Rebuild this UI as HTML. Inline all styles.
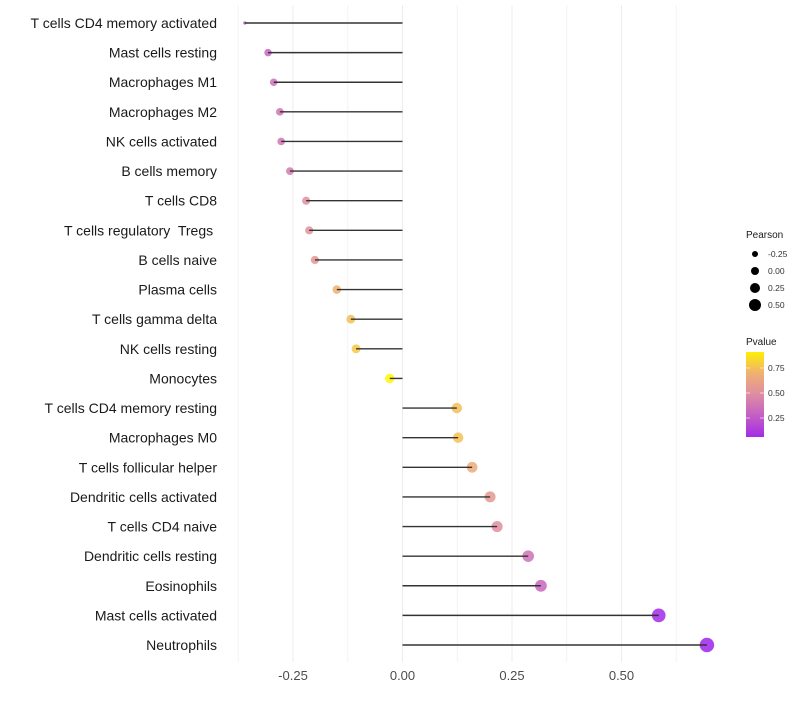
<!DOCTYPE html>
<html><head><meta charset="utf-8"><style>
body{margin:0;background:#fff;}
svg text{font-family:"Liberation Sans",sans-serif;white-space:pre;}
</style></head><body>
<svg id="chart" width="800" height="700"></svg>
<script>
const categories=["T cells CD4 memory activated","Mast cells resting","Macrophages M1","Macrophages M2","NK cells activated","B cells memory","T cells CD8","T cells regulatory  Tregs ","B cells naive","Plasma cells","T cells gamma delta","NK cells resting","Monocytes","T cells CD4 memory resting","Macrophages M0","T cells follicular helper","Dendritic cells activated","T cells CD4 naive","Dendritic cells resting","Eosinophils","Mast cells activated","Neutrophils"];
const pearson=[-0.36,-0.307,-0.294,-0.28,-0.277,-0.257,-0.22,-0.213,-0.2,-0.15,-0.118,-0.106,-0.029,0.124,0.127,0.159,0.2,0.216,0.287,0.316,0.585,0.695];
const pvalue=[0.22,0.3,0.35,0.37,0.38,0.4,0.5,0.52,0.55,0.7,0.75,0.78,0.95,0.75,0.76,0.66,0.56,0.5,0.36,0.3,0.05,0.03];
const xTicks=[-0.25,0,0.25,0.5];
const xTickLabels=["-0.25","0.00","0.25","0.50"];
const sizeLegend=[-0.25,0,0.25,0.5];
const colorLegend=[0.25,0.5,0.75];

const NS="http://www.w3.org/2000/svg";
const svg=document.getElementById('chart');
function el(t,a,p){const e=document.createElementNS(NS,t);for(const k in a)e.setAttribute(k,a[k]);(p||svg).appendChild(e);return e;}
const x=v=>402.5+v*438;
const y=i=>23+i*(622/21);
const vmin=Math.min(...pearson);
const r=v=>v<=vmin+1e-9?1.6:4.8+3.5*v;
const rl=v=>4+4*v;
const stops=[[0,[155,30,240]],[0.3,[199,101,192]],[0.5,[223,143,160]],[0.7,[240,176,112]],[0.92,[255,242,0]],[1,[255,255,0]]];
function col(p){for(let i=1;i<stops.length;i++){if(p<=stops[i][0]){const a=stops[i-1],b=stops[i],t=(p-a[0])/(b[0]-a[0]);return 'rgb('+a[1].map((c,j)=>Math.round(c+(b[1][j]-c)*t)).join(',')+')';}}return 'rgb(255,255,0)';}

for(let g=-0.375;g<=0.69;g+=0.125){
  const major=Math.abs(g*4-Math.round(g*4))<1e-6;
  const l=el('line',{x1:x(g),x2:x(g),y1:5,y2:662,stroke:major?'#ececec':'#f4f4f4','stroke-width':1});
  
  
}
xTicks.forEach((t,i)=>{
  const tx=el('text',{x:x(t),y:680,'text-anchor':'middle','font-size':13,fill:'#4d4d4d'});
  tx.textContent=xTickLabels[i];
  
  
});
categories.forEach((c,i)=>{
  const lb=el('text',{x:217,y:y(i)+5,'text-anchor':'end','font-size':14,fill:'#1a1a1a'});
  lb.textContent=c;
  
  
  const pt=el('circle',{cx:x(pearson[i]),cy:y(i),r:r(pearson[i]),fill:col(pvalue[i]),'fill-opacity':0.85});
  
  
  const ln=el('line',{x1:x(0),x2:x(pearson[i]),y1:y(i),y2:y(i),stroke:'#333','stroke-width':1.4});
  
  
});
const st=el('text',{x:746,y:238,'font-size':10,fill:'#1a1a1a'});st.textContent='Pearson';


sizeLegend.forEach((v,i)=>{
  const cy=254+i*17;
  const c=el('circle',{cx:755,cy:cy,r:rl(v),fill:'#000'});
  
  
  const t=el('text',{x:768,y:cy+3,'font-size':8.5,fill:'#333'});t.textContent=v.toFixed(2);
  
  
});
const ct=el('text',{x:746,y:345,'font-size':10,fill:'#1a1a1a'});ct.textContent='Pvalue';


const defs=el('defs',{});
const lg=el('linearGradient',{id:'pg',x1:0,y1:1,x2:0,y2:0},defs);
const p0=0.06,p1=0.91;
for(let k=0;k<=20;k++){const p=p0+(p1-p0)*k/20;el('stop',{offset:k/20,'stop-color':col(p)},lg);}
const bar=el('rect',{x:746,y:352,width:18,height:85,fill:'url(#pg)'});


colorLegend.forEach(p=>{
  const cy=443-p*100;
  el('line',{x1:746,x2:750,y1:cy,y2:cy,stroke:'#fff','stroke-width':0.6});
  el('line',{x1:760,x2:764,y1:cy,y2:cy,stroke:'#fff','stroke-width':0.6});
  const t=el('text',{x:768,y:cy+3,'font-size':8.5,fill:'#333'});t.textContent=p.toFixed(2);
  
  
});
</script>
</body></html>
